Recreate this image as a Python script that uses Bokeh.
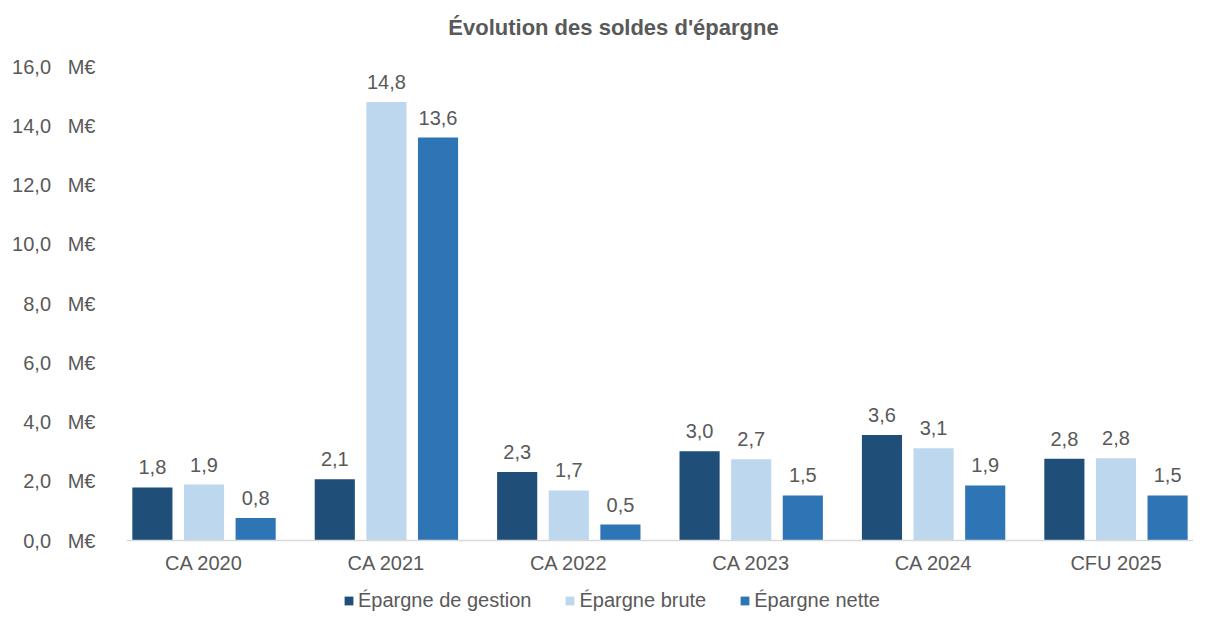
from bokeh.plotting import figure
from bokeh.models import ColumnDataSource, FactorRange, Range1d, FixedTicker, Legend, LegendItem, Label, Span
from bokeh.transform import dodge
from bokeh.core.properties import value
from bokeh.embed import file_html
from bokeh.resources import INLINE

categories = ["CA 2020", "CA 2021", "CA 2022", "CA 2023", "CA 2024", "CFU 2025"]
epargne_gestion = [1.79, 2.07, 2.31, 3.01, 3.56, 2.76]
epargne_brute = [1.89, 14.8, 1.69, 2.74, 3.11, 2.78]
epargne_nette = [0.76, 13.6, 0.54, 1.52, 1.86, 1.52]
series_names = ["Épargne de gestion", "Épargne brute", "Épargne nette"]
colors = ["#1F4E79", "#BDD7EE", "#2E75B6"]
y_ticks = [0, 2, 4, 6, 8, 10, 12, 14, 16]
title_text = "Évolution des soldes d'épargne"

FONT = "Liberation Sans"
GREY = "#595959"
NB = "\u00a0"

# layout (pixels)
W, H = 1193, 612
LEFT = 126
Y0_PX, Y16_PX = 540, 66          # vertical pixel positions of 0 and 16 M€
PPU = (Y0_PX - Y16_PX) / 16.0
y_end = 16 + Y16_PX / PPU
y_start = -(H - Y0_PX) / PPU

def fmt(v):
    return f"{v:.1f}".replace(".", ",")

src = ColumnDataSource(dict(
    x=categories,
    g=epargne_gestion, b=epargne_brute, n=epargne_nette,
    gl=[fmt(v) for v in epargne_gestion],
    bl=[fmt(v) for v in epargne_brute],
    nl=[fmt(v) for v in epargne_nette],
    zero=[0] * len(categories),
))

p = figure(width=W, height=H, x_range=FactorRange(*categories, range_padding=-0.025),
           y_range=Range1d(y_start, y_end), output_backend="svg", toolbar_location=None,
           min_border_left=LEFT, min_border_right=0, min_border_top=0, min_border_bottom=0)
p.outline_line_color = None
p.grid.grid_line_color = None
p.xaxis.visible = False

# baseline (category axis line)
p.add_layout(Span(location=0, dimension="width", line_color="#D9D9D9", line_width=1.5))

items = []
for key, lab, off, col, name in [("g", "gl", -0.283, colors[0], series_names[0]),
                                   ("b", "bl", 0.0, colors[1], series_names[1]),
                                   ("n", "nl", 0.283, colors[2], series_names[2])]:
    r = p.vbar(x=dodge("x", off, range=p.x_range), top=key, width=0.22, source=src,
               fill_color=col, line_color=None)
    p.text(x=dodge("x", off, range=p.x_range), y=key, text=lab, source=src,
           text_align="center", text_baseline="alphabetic", y_offset=-20,
           text_font=value(FONT), text_font_size="20px", text_color=GREY)
    items.append(LegendItem(label=name, renderers=[r]))

# category labels under the baseline
p.text(x="x", y="zero", text="x", source=src, text_align="center", text_baseline="alphabetic",
       y_offset=22, text_font=value(FONT), text_font_size="20px", text_color=GREY)

p.yaxis.ticker = FixedTicker(ticks=y_ticks)
p.yaxis.major_label_overrides = {t: fmt(t) + NB * 3 + "M€" for t in y_ticks}
p.yaxis.axis_line_color = None
p.yaxis.major_tick_line_color = None
p.yaxis.minor_tick_line_color = None
p.yaxis.major_label_text_font = FONT
p.yaxis.major_label_text_font_size = "20px"
p.yaxis.major_label_text_color = GREY
p.yaxis.major_label_standoff = 25

title = Label(x=487, y=H - 27, x_units="screen", y_units="screen", text=title_text,
              text_align="center", text_baseline="middle", text_font=FONT,
              text_font_size="22px", text_font_style="bold", text_color=GREY)
p.add_layout(title)

legend = Legend(items=items, orientation="horizontal", location=(217, 0),
                label_text_font=FONT, label_text_font_size="20px", label_text_color=GREY,
                label_height=20, glyph_width=11, glyph_height=11, spacing=33, label_standoff=4,
                border_line_color=None, background_fill_alpha=0, padding=0, margin=0)
p.add_layout(legend, "center")

open("out.html", "w").write(file_html(p, INLINE))
